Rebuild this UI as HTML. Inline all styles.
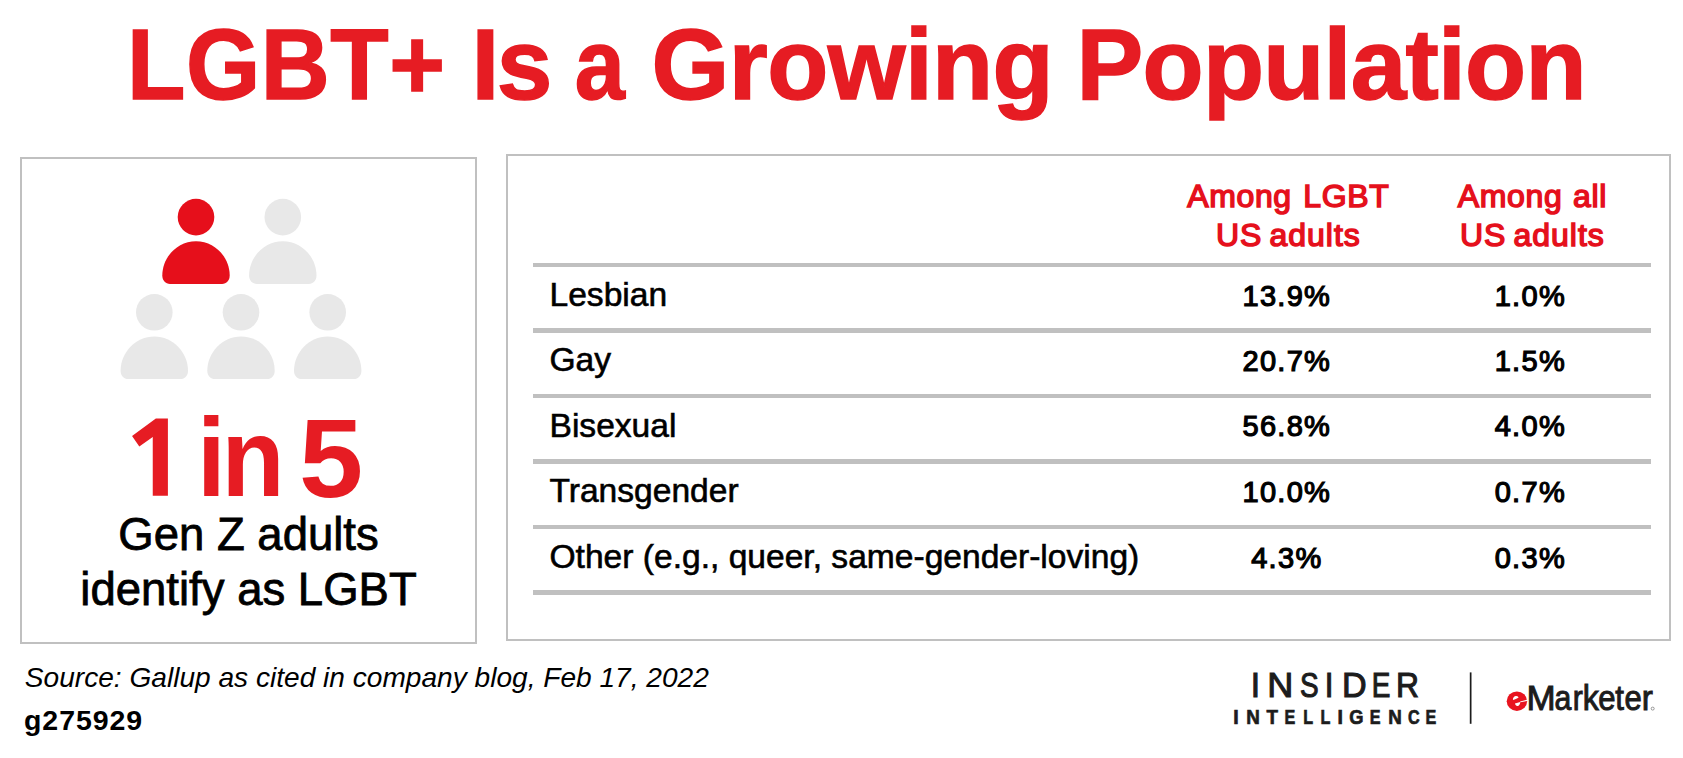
<!DOCTYPE html>
<html>
<head>
<meta charset="utf-8">
<title>LGBT+ Is a Growing Population</title>
<style>
  html, body { margin: 0; padding: 0; background: #ffffff; }
  body { width: 1683px; height: 758px; position: relative; overflow: hidden;
         font-family: "Liberation Sans", sans-serif; color: #000; }
  .abs { position: absolute; white-space: nowrap; line-height: 1; }
  .red { color: #e61c23; }
  #title { left: 126.6px; top: 14px; font-size: 100px; font-weight: bold; letter-spacing: -1.55px;
           -webkit-text-stroke: 1.5px #e61c23; }
  .tw { position: absolute; top: 0; }
  .box { position: absolute; border: 2px solid #c0c0c0; box-sizing: border-box; background: #fff; }
  #box1 { left: 20px; top: 157px; width: 457px; height: 487px; }
  #box2 { left: 506px; top: 154px; width: 1165px; height: 487px; }
  .rule { position: absolute; left: 533.3px; width: 1117.4px; height: 4.5px; background: #c0c0c0; }
  .big { font-size: 107px; font-weight: bold; }
  .lab { font-size: 33.6px; left: 549.5px; -webkit-text-stroke: 0.6px #000; }
  .val { font-size: 29px; letter-spacing: 1.3px; -webkit-text-stroke: 1.2px #000; text-align: center; width: 200px; padding-left: 0.65px; }
  .c1 { left: 1186.2px; }
  .c2 { left: 1429.7px; }
  .hdr { font-size: 32px; letter-spacing: 0.65px; -webkit-text-stroke: 1.5px #e5101c; text-align: center; width: 240px; padding-left: 0.33px; line-height: 39.6px; color: #e5101c; }
</style>
</head>
<body>
<div id="title" class="abs red"><span id="t1" class="tw" style="left:0px; letter-spacing:0.6px; transform-origin:0 0; transform:scaleX(0.955);">LGBT+</span><span id="t2" class="tw" style="left:345px; letter-spacing:-2.65px;">Is</span><span id="t3" class="tw" style="left:445px; transform:scaleX(0.9);">a</span><span id="t4" class="tw" style="left:525px; letter-spacing:-0.57px;">Growing</span><span id="t5" class="tw" style="left:950px; letter-spacing:-0.74px;">Population</span></div>

<div id="box1" class="box"></div>
<div id="box2" class="box"></div>

<!-- people icons -->
<svg class="abs" style="left:100px; top:180px;" width="300" height="220" viewBox="100 180 300 220">
  <defs>
    <g id="person">
      <circle cx="0" cy="0" r="18.3"/>
      <path d="M -33.7 58.5 C -33.7 40 -18.6 24.1 0 24.1 C 18.6 24.1 33.7 40 33.7 58.5 C 33.7 63.5 30.5 66.8 26 66.8 L -26 66.8 C -30.5 66.8 -33.7 63.5 -33.7 58.5 Z"/>
    </g>
  </defs>
  <use href="#person" x="196" y="217.1" fill="#e60f1b"/>
  <use href="#person" x="282.8" y="217.1" fill="#e8e8e8"/>
  <use href="#person" x="154.3" y="312.3" fill="#e8e8e8"/>
  <use href="#person" x="241" y="312.3" fill="#e8e8e8"/>
  <use href="#person" x="327.7" y="312.3" fill="#e8e8e8"/>
</svg>

<svg id="b1" class="abs" style="left:120px; top:405px;" width="60" height="100" viewBox="120 405 60 100">
  <polygon fill="#e61c23" points="155.85,418.6 167.9,418.6 167.9,495.85 152.75,495.85 152.75,437.1 139.3,446.4 132.05,435.9"/>
</svg>
<div id="b2" class="abs red big" style="left:196.6px; top:402.9px; font-size:111px; letter-spacing:-4.4px; transform-origin:0 0; transform:scaleX(0.93);">in</div>
<div id="b3" class="abs red big" style="left:299.1px; top:402.5px; font-size:112px; transform-origin:0 0; transform:scaleX(1.03);">5</div>
<div id="l1" class="abs" style="left:20px; width:457px; text-align:center; top:512.1px; font-size:45.5px; -webkit-text-stroke:0.8px #000;">Gen Z adults</div>
<div id="l2" class="abs" style="left:20px; width:457px; text-align:center; top:567px; font-size:45.5px; -webkit-text-stroke:0.8px #000;">identify as LGBT</div>

<!-- table -->
<div id="h1" class="abs hdr" style="left:1168px; top:176.6px;"><span style="word-spacing:2px;">Among LGBT</span><br><span style="word-spacing:-2.5px; letter-spacing:0.95px;">US adults</span></div>
<div id="h2" class="abs hdr" style="left:1412px; top:176.6px;"><span style="word-spacing:1px;">Among all</span><br><span style="word-spacing:-2.5px; letter-spacing:0.95px;">US adults</span></div>

<div class="rule" style="top:262.7px;"></div>
<div class="rule" style="top:328.2px;"></div>
<div class="rule" style="top:393.8px;"></div>
<div class="rule" style="top:459.3px;"></div>
<div class="rule" style="top:524.8px;"></div>
<div class="rule" style="top:590.3px;"></div>

<div id="r1" class="abs lab" style="top:278.4px;">Lesbian</div>
<div id="r2" class="abs lab" style="top:343.4px;">Gay</div>
<div id="r3" class="abs lab" style="top:409.4px;">Bisexual</div>
<div id="r4" class="abs lab" style="top:474.4px;">Transgender</div>
<div id="r5" class="abs lab" style="top:540.4px;">Other (e.g., queer, same-gender-loving)</div>

<div id="v11" class="abs val c1" style="top:281.9px;">13.9%</div>
<div id="v12" class="abs val c2" style="top:281.9px;">1.0%</div>
<div id="v21" class="abs val c1" style="top:347.2px;">20.7%</div>
<div id="v22" class="abs val c2" style="top:347.2px;">1.5%</div>
<div id="v31" class="abs val c1" style="top:412.2px;">56.8%</div>
<div id="v32" class="abs val c2" style="top:412.2px;">4.0%</div>
<div id="v41" class="abs val c1" style="top:478.2px;">10.0%</div>
<div id="v42" class="abs val c2" style="top:478.2px;">0.7%</div>
<div id="v51" class="abs val c1" style="top:543.7px;">4.3%</div>
<div id="v52" class="abs val c2" style="top:543.7px;">0.3%</div>

<!-- footer -->
<div id="src" class="abs" style="left:24.8px; top:664.2px; font-size:28.1px; font-style:italic;">Source: Gallup as cited in company blog, Feb 17, 2022</div>
<div id="gid" class="abs" style="left:24px; top:705.9px; font-size:28.5px; letter-spacing:0.95px; font-weight:bold;">g275929</div>

<svg id="logos" class="abs" style="left:1225px; top:660px;" width="458" height="90" viewBox="1225 660 458 90">
  <g font-family="'Liberation Sans', sans-serif" fill="#1c1c1c" stroke="#1c1c1c">
    <g id="ins1">
    <text transform="translate(1250.72 696.85) scale(0.964 1)" font-size="34.9" stroke-width="1.1">I</text>
    <text transform="translate(1267.31 696.85) scale(1.034 1)" font-size="34.9" stroke-width="1.1">N</text>
    <text transform="translate(1300.10 696.85) scale(0.800 1)" font-size="34.9" stroke-width="1.1">S</text>
    <text transform="translate(1324.71 696.85) scale(0.896 1)" font-size="34.9" stroke-width="1.1">I</text>
    <text transform="translate(1341.94 696.85) scale(0.978 1)" font-size="34.9" stroke-width="1.1">D</text>
    <text transform="translate(1371.64 696.85) scale(0.800 1)" font-size="34.9" stroke-width="1.1">E</text>
    <text transform="translate(1396.09 696.85) scale(0.912 1)" font-size="34.9" stroke-width="1.1">R</text>
    </g>
    <g id="ins2">
    <text transform="translate(1233.23 723.50) scale(0.970 1)" font-size="20.2" font-weight="bold" stroke-width="0.7">I</text>
    <text transform="translate(1246.27 723.50) scale(0.930 1)" font-size="20.2" font-weight="bold" stroke-width="0.7">N</text>
    <text transform="translate(1266.41 723.50) scale(0.929 1)" font-size="20.2" font-weight="bold" stroke-width="0.7">T</text>
    <text transform="translate(1284.49 723.50) scale(0.800 1)" font-size="20.2" font-weight="bold" stroke-width="0.7">E</text>
    <text transform="translate(1303.17 723.50) scale(0.800 1)" font-size="20.2" font-weight="bold" stroke-width="0.7">L</text>
    <text transform="translate(1320.52 723.50) scale(0.800 1)" font-size="20.2" font-weight="bold" stroke-width="0.7">L</text>
    <text transform="translate(1337.53 723.50) scale(0.970 1)" font-size="20.2" font-weight="bold" stroke-width="0.7">I</text>
    <text transform="translate(1349.27 723.50) scale(0.907 1)" font-size="20.2" font-weight="bold" stroke-width="0.7">G</text>
    <text transform="translate(1369.74 723.50) scale(0.800 1)" font-size="20.2" font-weight="bold" stroke-width="0.7">E</text>
    <text transform="translate(1388.37 723.50) scale(0.930 1)" font-size="20.2" font-weight="bold" stroke-width="0.7">N</text>
    <text transform="translate(1407.95 723.50) scale(0.800 1)" font-size="20.2" font-weight="bold" stroke-width="0.7">C</text>
    <text transform="translate(1425.44 723.50) scale(0.800 1)" font-size="20.2" font-weight="bold" stroke-width="0.7">E</text>
    </g>
    <rect id="vbar" stroke="none" x="1469.8" y="672.4" width="1.7" height="51.4"/>
    <g id="emk">
    <text transform="translate(1526.52 710.20) scale(0.983 1)" font-size="35.6" stroke-width="1.0">M</text>
    <text transform="translate(1554.39 710.20) scale(0.850 1)" font-size="35.6" stroke-width="1.0">a</text>
    <text transform="translate(1572.81 710.20) scale(0.850 1)" font-size="35.6" stroke-width="1.0">r</text>
    <text transform="translate(1582.80 710.20) scale(0.903 1)" font-size="35.6" stroke-width="1.0">k</text>
    <text transform="translate(1598.24 710.20) scale(0.873 1)" font-size="35.6" stroke-width="1.0">e</text>
    <text transform="translate(1615.29 710.20) scale(0.877 1)" font-size="35.6" stroke-width="1.0">t</text>
    <text transform="translate(1624.54 710.20) scale(0.873 1)" font-size="35.6" stroke-width="1.0">e</text>
    <text transform="translate(1641.87 710.20) scale(0.937 1)" font-size="35.6" stroke-width="1.0">r</text>
    </g>
  </g>
  <ellipse id="ecirc" cx="1516.9" cy="701.2" rx="10.2" ry="9.7" fill="#e8141f"/>
  <g fill="#ffffff">
    <path d="M1512.85 699.2 C1513.2 697.4 1514.3 696.2 1515.9 696 C1517.4 695.8 1518.5 696.6 1518.45 697.7 C1516.7 698.5 1514.8 699.3 1513.3 699.95 Z"/>
    <path d="M1514.95 703.6 C1516.7 703 1518.6 702.4 1520.25 701.9 C1520.3 702.9 1520.1 703.7 1519.6 704.4 C1518.9 705.5 1518 706 1517.3 705.95 C1516.2 705.9 1515.3 704.9 1514.95 703.6 Z"/>
    <polygon points="1520.1,701.6 1527.0,699.8 1527.2,700.9 1520.3,702.2"/>
  </g>
  <circle cx="1652.7" cy="708.6" r="1.5" fill="none" stroke="#707070" stroke-width="0.7"/>
</svg>

</body>
</html>
